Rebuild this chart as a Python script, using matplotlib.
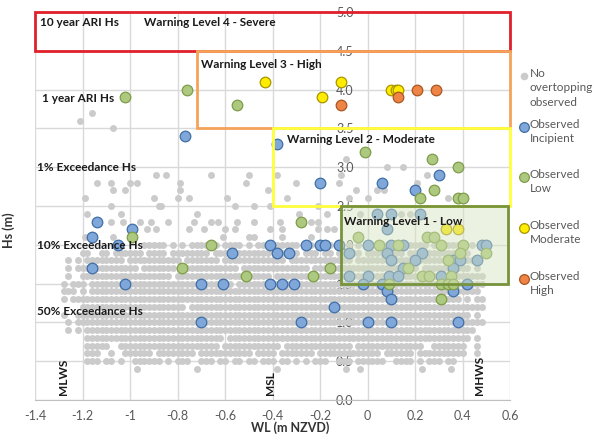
import matplotlib
matplotlib.use("Agg")
import matplotlib.pyplot as plt
from matplotlib.patches import Rectangle
from matplotlib.lines import Line2D

plt.rcParams['font.family'] = ['Lato', 'DejaVu Sans']

# --- data -------------------------------------------------------------
# dense "no overtopping" cloud, one string per Hs row; each char is a WL bin
# of 0.02 m starting at -1.30 ('o' = observation, '.' = none)
cloud_x0 = -1.30
cloud_dx = 0.02
cloud_hs = [2.0, 1.9, 1.8, 1.7, 1.6, 1.5, 1.4, 1.3, 1.2, 1.1, 1.0, 0.9, 0.8, 0.7, 0.6, 0.5]
cloud_rows = [
    ".......... ........oo ooo.o.o.oo oo.o.oooo. o.oo..oooo o..o...o.. .o.o.o.ooo o.o.oooo.o o.oooo.o.. .",
    ".....oo..o o.oooooo.o ooo.oooooo oo.oooo.oo ooooo.oooo o.ooo.oo.o oooo.ooooo ooo.oooooo oooo.oo... .",
    "..o.o.oooo oooo.ooooo oooooo.ooo oooo.ooooo oooooooo.o oooooooooo oo.ooooooo oooooooooo oooooooo.. .",
    "..o.oooooo ooooooo.oo ooooo.oooo oooooooo.o oooooooooo ooo.oooooo oooooooooo oooooo.ooo ooooooo.o. .",
    "..o..ooooo oooooooooo oooo.ooooo oooooooooo ooooo.oooo oooooooooo oooooooooo oooooooooo oooooooooo .",
    ".o.ooo.ooo oooooooooo oooooooooo ooooooo.oo oooooooooo oooooooooo oooooooooo oooooooooo oooooooooo .",
    ".ooo.o.ooo oooooooooo oooooooooo oooooooooo oooooooooo oooooooooo oooooooooo oooooooooo ooooooooo. .",
    ".o.ooooooo oooooooooo oooooooooo oooooooooo oooooooooo oooooooooo oooooooooo oooooooooo ooooo.o.oo .",
    ".....ooooo oooooooooo ooooooo.oo oooooooooo oooooooooo oooooooooo oooooooooo oooooooooo oooooooooo .",
    ".o..oooooo oooooooooo oooooooooo oooooooooo oooooooooo oooooooooo oooooooooo oooooooooo ooooooo.o. .",
    "..o.oooooo oooooooooo oooooooooo oooooooooo oooooooooo oooooooooo oooooooooo oooooooooo oooooooooo .",
    "..o.o.oooo oooooooooo oooooooooo oooooooooo oooooooooo oooooooooo oooooooooo oooooooooo oooooooo.. .",
    "......oooo oooooooooo oooooooooo ooooo.oooo oooooooooo oooooooooo oooooooooo oooooooooo ooooooo.o. .",
    "......oooo o..ooooooo oooooooooo oooo.ooooo ooooooo.oo oooooooooo oo.ooooooo ooooooo..o oooooo..o. .",
    "......ooo. .o..oooooo .oooooooo. oooooooooo o.oooo.ooo oooo.ooooo oooooooo.o ooooo.oooo oooooo..o. .",
    "......ooo. oo.o..oooo oo.o.ooo.. ooo.oo.oo. oo.ooo.oo. o.o.ooo..o oo.oooooo. .oooo.o.oo o.oo...... .",
]

# scattered "no overtopping" points outside the dense cloud
none_wl = [-1.16, -1.21, -1.07, -0.09, 0.08, 0.15,
           -0.89, -0.85, -0.66, -0.50, -0.38, -0.11, 0.25,
           -1.14, -1.08, -1.00, -0.97, -0.79, -0.51, -0.30, -0.12, 0.21,
           -1.07, -1.02, -0.79, -0.42, -0.05, 0.04, 0.07,
           -1.19, -0.90, -0.80, -0.75, -0.59, -0.34, -0.08, 0.00, 0.34,
           -1.08, -0.88, -0.87, -0.56, -0.48, -0.41, -0.21,
           -1.18, -1.04, -0.72, -0.29, -0.17, -0.03, 0.14, 0.18,
           -1.08, -1.03, -0.96, -0.91, -0.84, -0.73, -0.66, -0.63, -0.55, -0.48, -0.37, -0.24, -0.21,
           -0.93, -0.89, -0.75, -0.69, -0.60, -0.56, -0.41, -0.36, -0.21, -0.17, -0.14,
           -1.19, -1.07, -0.61, -0.50, -0.48, -0.36, -0.24,
           -0.97, -0.72, -0.38, -0.09, -0.03, 0.23, 0.35]
none_hs = [3.7, 3.6, 3.5, 3.1, 3.0, 3.0,
           2.9, 2.9, 2.9, 2.9, 2.9, 2.9, 2.9,
           2.8, 2.8, 2.8, 2.8, 2.8, 2.8, 2.8, 2.8, 2.8,
           2.7, 2.7, 2.7, 2.7, 2.7, 2.7, 2.7,
           2.6, 2.6, 2.6, 2.6, 2.6, 2.6, 2.6, 2.6, 2.6,
           2.5, 2.5, 2.5, 2.5, 2.5, 2.5, 2.5,
           2.4, 2.4, 2.4, 2.4, 2.4, 2.4, 2.4, 2.4,
           2.3, 2.3, 2.3, 2.3, 2.3, 2.3, 2.3, 2.3, 2.3, 2.3, 2.3, 2.3, 2.3,
           2.2, 2.2, 2.2, 2.2, 2.2, 2.2, 2.2, 2.2, 2.2, 2.2, 2.2,
           2.1, 2.1, 2.1, 2.1, 2.1, 2.1, 2.1,
           0.4, 0.4, 0.4, 0.4, 0.4, 0.4, 0.4]

incipient_wl = [-0.77, -0.38, 0.30, -0.20, 0.06, 0.20, 0.04, 0.10, 0.22, 0.08,
                -1.14, -0.99, -1.16,
                -1.05, -0.41, -0.26, -0.20, -0.18, -0.12, 0.00, 0.10, 0.15, 0.48, 0.50,
                -0.57, -0.38, -0.33, -0.08, 0.08, 0.23,
                0.10, 0.20, 0.36, 0.39, 0.46,
                -1.16, 0.15, 0.36,
                -0.08, 0.00, 0.09, 0.13, 0.31,
                -1.02, -0.70, -0.61, -0.41, -0.36, -0.31, -0.02, 0.06, 0.42,
                0.08, 0.36, 0.10, -0.14,
                -0.70, -0.28, 0.00, 0.10, 0.38]
incipient_hs = [3.4, 3.3, 2.9, 2.8, 2.8, 2.7, 2.4, 2.4, 2.4, 2.2,
                2.3, 2.2, 2.1,
                2.0, 2.0, 2.0, 2.0, 2.0, 2.0, 2.0, 2.0, 2.0, 2.0, 2.0,
                1.9, 1.9, 1.9, 1.9, 1.9, 1.9,
                1.8, 1.8, 1.8, 1.8, 1.8,
                1.7, 1.7, 1.7,
                1.6, 1.6, 1.6, 1.6, 1.6,
                1.5, 1.5, 1.5, 1.5, 1.5, 1.5, 1.5, 1.5, 1.5,
                1.4, 1.4, 1.3, 1.2,
                1.0, 1.0, 1.0, 1.0, 1.0]

low_wl = [-1.02, -0.76, -0.55, -0.01, 0.27, 0.38, 0.28, 0.22, 0.38, 0.40,
          -0.28, -0.99, -0.04, 0.25, 0.28,
          -0.66, 0.05, 0.13, 0.31, 0.40,
          0.39, 0.50, 0.34,
          -0.78, -0.16, 0.17,
          -0.51, -0.23, 0.23, 0.26, 0.35,
          0.09, 0.31, 0.34, 0.36, 0.31]
low_hs = [3.9, 4.0, 3.8, 3.2, 3.1, 3.0, 2.7, 2.6, 2.6, 2.6,
          2.3, 2.1, 2.1, 2.1, 2.1,
          2.0, 2.0, 2.0, 2.0, 2.0,
          1.9, 1.9, 1.8,
          1.7, 1.7, 1.7,
          1.6, 1.6, 1.6, 1.6, 1.6,
          1.5, 1.5, 1.5, 1.5, 1.3]

moderate_wl = [-0.43, -0.11, -0.19, 0.10, 0.12, 0.13, 0.33, 0.38]
moderate_hs = [4.1, 4.1, 3.9, 4.0, 4.0, 4.0, 2.2, 2.2]

high_wl = [-0.11, 0.13, 0.21, 0.29]
high_hs = [3.8, 3.9, 4.0, 4.0]

# warning level boxes: (label, wl_min, wl_max, hs_min, hs_max)
levels = [("Warning Level 4 - Severe", -1.40, 0.60, 4.5, 5.0),
          ("Warning Level 3 - High", -0.72, 0.60, 3.5, 4.5),
          ("Warning Level 2 - Moderate", -0.40, 0.60, 2.5, 3.5),
          ("Warning Level 1 - Low", -0.11, 0.59, 1.5, 2.5)]

# --- expand the cloud rows ---------------------------------------------
cloud_wl, cloud_h = [], []
for hs, row in zip(cloud_hs, cloud_rows):
    for i, c in enumerate(row.replace(" ", "")):
        if c == "o":
            cloud_wl.append(round(cloud_x0 + cloud_dx * i, 2))
            cloud_h.append(hs)

# --- plot ---------------------------------------------------------------
fig = plt.figure(figsize=(5.97, 4.43), dpi=100)
ax = fig.add_axes([35/597, 1 - 400/443, 475/597, 388/443])

grey = '#cbcbcb'
ax.scatter(cloud_wl, cloud_h, s=25, color=grey, linewidths=0, zorder=2)
ax.scatter(none_wl, none_hs, s=25, color=grey, linewidths=0, zorder=2)

ax.scatter(incipient_wl, incipient_hs, s=58, color='#7fa7d9', edgecolors='#3f6ea6', linewidths=0.9, zorder=3)
ax.scatter(low_wl, low_hs, s=58, color='#adc97f', edgecolors='#7f9c49', linewidths=0.9, zorder=3)
ax.scatter(moderate_wl, moderate_hs, s=58, color='#ffec00', edgecolors='#a89500', linewidths=0.9, zorder=3)
ax.scatter(high_wl, high_hs, s=58, color='#ee8445', edgecolors='#a9561f', linewidths=0.9, zorder=3)

box_cols = ['#e0202a', '#f5a35a', '#ffff3c', '#77933c']
for (lab, x0, x1, y0, y1), col in zip(levels, box_cols):
    if lab.endswith("Low"):
        ax.add_patch(Rectangle((x0, y0), x1 - x0, y1 - y0, facecolor='#d7e4bd', alpha=0.45,
                               edgecolor='none', zorder=4))
    ax.add_patch(Rectangle((x0, y0), x1 - x0, y1 - y0, fill=False, edgecolor=col,
                           linewidth=2, zorder=5, clip_on=False))

# labels on the chart
bold = dict(fontsize=8.5, fontweight='bold', color='#1a1a1a', zorder=6)
ax.text(-1.38, 4.87, "10 year ARI Hs", ha='left', va='center', **bold)
ax.text(-0.94, 4.87, "Warning Level 4 - Severe", ha='left', va='center', **bold)
ax.text(-1.37, 3.88, "1 year ARI Hs", ha='left', va='center', **bold)
ax.text(-0.70, 4.32, "Warning Level 3 - High", ha='left', va='center', **bold)
ax.text(-0.34, 3.36, "Warning Level 2 - Moderate", ha='left', va='center', **bold)
ax.text(-1.39, 2.99, "1% Exceedance Hs", ha='left', va='center', **bold)
ax.text(-1.39, 1.99, "10% Exceedance Hs", ha='left', va='center', **bold)
ax.text(-0.10, 2.30, "Warning Level 1 - Low", ha='left', va='center', **bold)
ax.text(-1.39, 1.14, "50% Exceedance Hs", ha='left', va='center', **bold)
ax.text(-1.28, 0.06, "MLWS", rotation=90, ha='center', va='bottom', **bold)
ax.text(-0.41, 0.06, "MSL", rotation=90, ha='center', va='bottom', **bold)
ax.text(0.47, 0.06, "MHWS", rotation=90, ha='center', va='bottom', **bold)

ax.set_xlim(-1.4, 0.6)
ax.set_ylim(0, 5)
ax.set_xticks([-1.4, -1.2, -1.0, -0.8, -0.6, -0.4, -0.2, 0.0, 0.2, 0.4, 0.6])
ax.set_xticklabels(["-1.4", "-1.2", "-1", "-0.8", "-0.6", "-0.4", "-0.2", "0", "0.2", "0.4", "0.6"])
ax.set_yticks([0, 0.5, 1, 1.5, 2, 2.5, 3, 3.5, 4, 4.5, 5])
ax.set_yticklabels(["%.1f" % v for v in ax.get_yticks()])
ax.tick_params(length=0, labelsize=9, labelcolor='#595959')
ax.tick_params(axis='x', pad=7)
ax.tick_params(axis='y', pad=10)
ax.spines['left'].set_position(('data', 0))
ax.spines['left'].set_visible(False)
ax.spines['right'].set_visible(False)
ax.spines['top'].set_visible(False)
ax.spines['bottom'].set_color('#bfbfbf')
ax.grid(True, color='#d9d9d9', linewidth=1, zorder=0)
ax.set_axisbelow(True)
ax.patch.set_alpha(0)

fig.text(290/597, 1 - 428/443, "WL (m NZVD)", ha='center', va='center', fontsize=9,
         fontweight='bold', color='#333333')
fig.text(9/597, 1 - 230/443, "Hs (m)", ha='center', va='center', rotation=90, fontsize=9,
         fontweight='bold', color='#333333')

# legend, drawn by hand to keep the marker level with the first text line
leg_items = [("No\novertopping\nobserved", grey, 'none', 5.5, 76),
             ("Observed\nIncipient", '#7fa7d9', '#3f6ea6', 7, 127),
             ("Observed\nLow", '#adc97f', '#7f9c49', 7, 177),
             ("Observed\nModerate", '#ffec00', '#a89500', 7, 228),
             ("Observed\nHigh", '#ee8445', '#a9561f', 7, 279)]
for lab, fc, ec, ms, py in leg_items:
    fig.add_artist(Line2D([524/597], [1 - py/443], marker='o', markersize=ms, markerfacecolor=fc,
                          markeredgecolor=ec, markeredgewidth=0.9, linestyle='none',
                          transform=fig.transFigure))
    fig.text(530/597, 1 - (py - 8)/443, lab, ha='left', va='top', fontsize=8.5,
             color='#595959', linespacing=1.38)

fig.savefig("out.png", dpi=100)
